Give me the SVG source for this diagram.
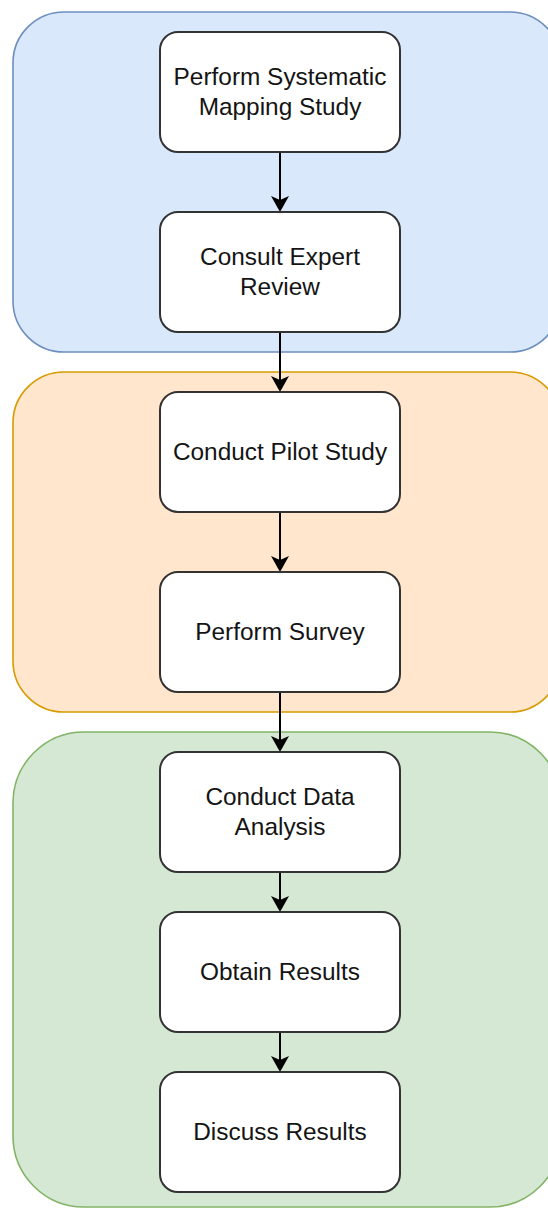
<svg xmlns="http://www.w3.org/2000/svg" width="548" height="1209" viewBox="0 0 548 1209">
  <style>
    .stage { stroke-width: 1.6; }
    .blue { fill: #dae8fc; stroke: #6c8ebf; }
    .orange { fill: #ffe6cc; stroke: #d79b00; }
    .green { fill: #d5e8d4; stroke: #82b366; }
    .step rect { fill: #ffffff; stroke: #333333; stroke-width: 2; }
    .step text { font-family: "Liberation Sans", Arial, Helvetica, sans-serif; font-size: 24.4px; fill: #141414; text-anchor: middle; }
    .edge { stroke: #000000; stroke-width: 2; fill: none; marker-end: url(#arrow); }
  </style>
  <defs>
    <marker id="arrow" markerUnits="userSpaceOnUse" viewBox="0 0 16 18" markerWidth="16" markerHeight="18" refX="12" refY="9" orient="auto">
      <path d="M0,0 L16,9 L0,18 L4,9 Z" fill="#000000"/>
    </marker>
  </defs>

  <!-- phase backgrounds -->
  <g id="phase-planning">
    <rect class="stage blue" x="13" y="12" width="548" height="340" rx="51" ry="51"/>
  </g>
  <g id="phase-survey">
    <rect class="stage orange" x="13" y="372" width="548" height="340" rx="51" ry="51"/>
  </g>
  <g id="phase-analysis">
    <rect class="stage green" x="13" y="732" width="548" height="475" rx="71" ry="71"/>
  </g>

  <!-- connectors -->
  <g id="connectors">
    <line class="edge" x1="280" y1="152" x2="280" y2="208"/>
    <line class="edge" x1="280" y1="332" x2="280" y2="388"/>
    <line class="edge" x1="280" y1="512" x2="280" y2="568"/>
    <line class="edge" x1="280" y1="692" x2="280" y2="748"/>
    <line class="edge" x1="280" y1="872" x2="280" y2="908"/>
    <line class="edge" x1="280" y1="1032" x2="280" y2="1068"/>
  </g>

  <!-- steps -->
  <g id="step-mapping" class="step">
    <rect x="160" y="32" width="240" height="120" rx="18" ry="18"/>
    <text x="280" y="85">Perform Systematic</text>
    <text x="280" y="115">Mapping Study</text>
  </g>
  <g id="step-expert" class="step">
    <rect x="160" y="212" width="240" height="120" rx="18" ry="18"/>
    <text x="280" y="265">Consult Expert</text>
    <text x="280" y="295">Review</text>
  </g>
  <g id="step-pilot" class="step">
    <rect x="160" y="392" width="240" height="120" rx="18" ry="18"/>
    <text x="280" y="460">Conduct Pilot Study</text>
  </g>
  <g id="step-survey" class="step">
    <rect x="160" y="572" width="240" height="120" rx="18" ry="18"/>
    <text x="280" y="640">Perform Survey</text>
  </g>
  <g id="step-data" class="step">
    <rect x="160" y="752" width="240" height="120" rx="18" ry="18"/>
    <text x="280" y="805">Conduct Data</text>
    <text x="280" y="835">Analysis</text>
  </g>
  <g id="step-results" class="step">
    <rect x="160" y="912" width="240" height="120" rx="18" ry="18"/>
    <text x="280" y="980">Obtain Results</text>
  </g>
  <g id="step-discuss" class="step">
    <rect x="160" y="1072" width="240" height="120" rx="18" ry="18"/>
    <text x="280" y="1140">Discuss Results</text>
  </g>
</svg>
